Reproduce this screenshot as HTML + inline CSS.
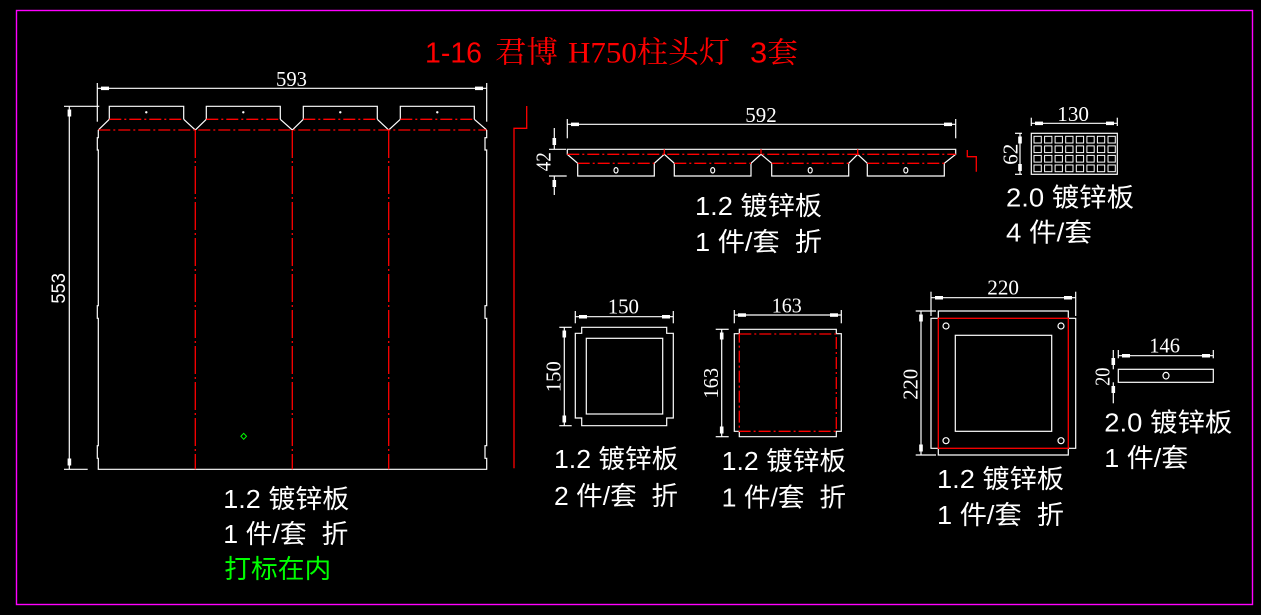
<!DOCTYPE html>
<html><head><meta charset="utf-8"><style>
html,body{margin:0;padding:0;background:#000;width:1261px;height:615px;overflow:hidden}
svg{display:block}
.w{stroke:#fff;stroke-width:1.2;fill:none}
.r{stroke:#ff0000;stroke-width:1.3;fill:none}
.rd{stroke:#ff0000;stroke-width:1.3;fill:none;stroke-dasharray:12 3 2 3}
.rv{stroke:#ff0000;stroke-width:1.3;fill:none;stroke-dasharray:28 3 2 3}
.d{font-family:"Liberation Serif",serif;font-size:21px;fill:#fff}
.l{font-family:"Liberation Sans","Noto Sans CJK SC",sans-serif;font-size:26px;fill:#fff;white-space:pre}
.m{fill:#fff}
</style></head><body>
<svg width="1261" height="615" viewBox="0 0 1261 615" xmlns="http://www.w3.org/2000/svg" xml:space="preserve">
<rect x="0" y="0" width="1261" height="615" fill="#000"/>
<rect x="16.5" y="10.5" width="1236" height="594" fill="none" stroke="#ff00ff" stroke-width="1.4"/>

<!-- Title -->
<text x="425" y="62.7" font-family="Liberation Sans,sans-serif" font-size="29" fill="#ff0000" textLength="57" lengthAdjust="spacingAndGlyphs">1-16</text>
<text x="495" y="62.7" font-family="Liberation Serif,'Noto Serif CJK SC',serif" font-size="30" fill="#ff0000" textLength="63" lengthAdjust="spacingAndGlyphs">君博</text>
<text x="568" y="62.7" font-family="Liberation Serif,'Noto Serif CJK SC',serif" font-size="30" fill="#ff0000" textLength="162" lengthAdjust="spacingAndGlyphs">H750柱头灯</text>
<text x="750" y="62.7" font-family="Liberation Sans,'Noto Serif CJK SC',sans-serif" font-size="29" fill="#ff0000" textLength="48" lengthAdjust="spacingAndGlyphs">3套</text>

<!-- ===== Left panel ===== -->
<line class="w" x1="97.3" y1="88.3" x2="486.7" y2="88.3"/>
<line class="w" x1="97.3" y1="83" x2="97.3" y2="121.7"/>
<line class="w" x1="486.7" y1="83" x2="486.7" y2="121.7"/>
<rect class="m" x="101" y="86.6" width="8" height="3.5"/>
<rect class="m" x="475" y="86.6" width="8" height="3.5"/>
<text class="d" x="276" y="86" textLength="31" lengthAdjust="spacingAndGlyphs">593</text>
<line class="w" x1="69.3" y1="106" x2="69.3" y2="469.3"/>
<line class="w" x1="64" y1="106.3" x2="99.3" y2="106.3"/>
<line class="w" x1="64" y1="469.3" x2="87.7" y2="469.3"/>
<rect class="m" x="67.6" y="109.5" width="3.6" height="7"/>
<rect class="m" x="67.6" y="458.5" width="3.6" height="7"/>
<text transform="translate(58.3,288.3) rotate(-90)" x="0" y="6.8" text-anchor="middle" font-family="Liberation Sans,sans-serif" font-size="19" fill="#fff" textLength="30.6" lengthAdjust="spacingAndGlyphs">553</text>

<path class="w" d="M109.3,119.3 V106.3 H183.7 V119.3 M206.3,119.3 V106.3 H280.3 V119.3 M303.3,119.3 V106.3 H377.3 V119.3 M400.3,119.3 V106.3 H474.3 V119.3"/>
<circle cx="146.3" cy="112.3" r="1.2" fill="#fff"/>
<circle cx="243.3" cy="112.3" r="1.2" fill="#fff"/>
<circle cx="340.3" cy="112.3" r="1.2" fill="#fff"/>
<circle cx="437.3" cy="112.3" r="1.2" fill="#fff"/>
<path class="w" d="M109.3,119.3 L98.3,130 M183.7,119.3 L195.3,130 L206.3,119.3 M280.3,119.3 L292.3,130 L303.3,119.3 M377.3,119.3 L388.7,130 L400.3,119.3 M474.3,119.3 L486.7,130"/>
<path class="rd" d="M109.3,119.3 H183.7 M206.3,119.3 H280.3 M303.3,119.3 H377.3 M400.3,119.3 H474.3"/>
<line class="rd" x1="98.3" y1="130" x2="486.7" y2="130"/>
<path class="w" d="M98.3,130 V137.7 H97.3 V150 H98.3 V305.7 H97.3 V318.3 H98.3 V445.7 H97.3 V458.3 H98.3 V469.3 H486.7 V458.3 H485 V445.7 H486.7 V318.3 H485 V305.7 H486.7 V150 H485 V137.7 H486.7 V130"/>
<line class="rv" x1="195.3" y1="130" x2="195.3" y2="469.3"/>
<line class="rv" x1="292.3" y1="130" x2="292.3" y2="469.3"/>
<line class="rv" x1="388.7" y1="130" x2="388.7" y2="469.3"/>
<path d="M243.7,433.3 L246.5,436.3 L243.7,439.3 L240.9,436.3 Z" fill="none" stroke="#00ff00" stroke-width="1"/>

<text class="l" x="223.3" y="508" textLength="126" lengthAdjust="spacingAndGlyphs">1.2 镀锌板</text>
<text class="l" x="223.3" y="543" textLength="125" lengthAdjust="spacingAndGlyphs">1 件/套  折</text>
<text class="l" x="224.3" y="578" textLength="107" lengthAdjust="spacingAndGlyphs" style="fill:#00ff00">打标在内</text>

<path class="r" d="M526.7,106 V128.3 H514 V468.3"/>

<!-- ===== Top middle ===== -->
<line class="w" x1="567.3" y1="124.3" x2="955.7" y2="124.3"/>
<line class="w" x1="567.3" y1="119" x2="567.3" y2="138.3"/>
<line class="w" x1="955.7" y1="119" x2="955.7" y2="138.3"/>
<rect class="m" x="571" y="122.6" width="8" height="3.5"/>
<rect class="m" x="944" y="122.6" width="8" height="3.5"/>
<text class="d" x="745.3" y="122" textLength="31.4" lengthAdjust="spacingAndGlyphs">592</text>

<path class="w" d="M567.3,149.3 H955.7 V154.3 L944.3,163.3 V176 H867.3 V163.3 L857.7,154.3 L848.7,163.3 V176 H771.7 V163.3 L761,154.3 L751,163.3 V176 H674.3 V163.3 L664.3,154.3 L654.3,163.3 V176 H577.7 V163.3 L567.3,154.3 Z"/>
<line class="rd" x1="567.3" y1="154.3" x2="955.7" y2="154.3"/>
<path class="rd" d="M577.7,163.3 H654.3 M674.3,163.3 H751 M771.7,163.3 H848.7 M867.3,163.3 H944.3"/>
<path class="r" d="M664.3,149.3 V154.3 M761,149.3 V154.3 M857.7,149.3 V154.3"/>
<ellipse cx="616" cy="170.3" rx="2" ry="2.7" class="w" stroke-width="1"/>
<ellipse cx="712.7" cy="170.3" rx="2" ry="2.7" class="w" stroke-width="1"/>
<ellipse cx="810.2" cy="170.3" rx="2" ry="2.7" class="w" stroke-width="1"/>
<ellipse cx="905.8" cy="170.3" rx="2" ry="2.7" class="w" stroke-width="1"/>
<line class="w" x1="549" y1="149.3" x2="566" y2="149.3"/>
<line class="w" x1="549" y1="176" x2="566.7" y2="176"/>
<line class="w" x1="554.3" y1="128" x2="554.3" y2="149.3"/>
<line class="w" x1="554.3" y1="176" x2="554.3" y2="195"/>
<rect class="m" x="552.5" y="138" width="3.6" height="7"/>
<rect class="m" x="552.5" y="180" width="3.6" height="7"/>
<text class="d" transform="translate(543,161.7) rotate(-90)" x="0" y="7.3" text-anchor="middle" textLength="19" lengthAdjust="spacingAndGlyphs">42</text>
<path class="r" d="M967.3,150 V156.7 H976.3 V171.7"/>

<text class="l" x="695" y="215" textLength="127" lengthAdjust="spacingAndGlyphs">1.2 镀锌板</text>
<text class="l" x="695" y="251" textLength="127" lengthAdjust="spacingAndGlyphs">1 件/套  折</text>

<!-- ===== Top right grid ===== -->
<rect class="w" x="1031.3" y="133.3" width="86" height="41"/>
<g fill="none" stroke="#fff" stroke-width="1">
<rect x="1034" y="136.3" width="7.3" height="6.7"/><rect x="1044.6" y="136.3" width="7.3" height="6.7"/><rect x="1055.1" y="136.3" width="7.3" height="6.7"/><rect x="1065.7" y="136.3" width="7.3" height="6.7"/><rect x="1076.3" y="136.3" width="7.3" height="6.7"/><rect x="1086.9" y="136.3" width="7.3" height="6.7"/><rect x="1097.4" y="136.3" width="7.3" height="6.7"/><rect x="1108" y="136.3" width="7.3" height="6.7"/>
<rect x="1034" y="145.9" width="7.3" height="6.7"/><rect x="1044.6" y="145.9" width="7.3" height="6.7"/><rect x="1055.1" y="145.9" width="7.3" height="6.7"/><rect x="1065.7" y="145.9" width="7.3" height="6.7"/><rect x="1076.3" y="145.9" width="7.3" height="6.7"/><rect x="1086.9" y="145.9" width="7.3" height="6.7"/><rect x="1097.4" y="145.9" width="7.3" height="6.7"/><rect x="1108" y="145.9" width="7.3" height="6.7"/>
<rect x="1034" y="155.4" width="7.3" height="6.7"/><rect x="1044.6" y="155.4" width="7.3" height="6.7"/><rect x="1055.1" y="155.4" width="7.3" height="6.7"/><rect x="1065.7" y="155.4" width="7.3" height="6.7"/><rect x="1076.3" y="155.4" width="7.3" height="6.7"/><rect x="1086.9" y="155.4" width="7.3" height="6.7"/><rect x="1097.4" y="155.4" width="7.3" height="6.7"/><rect x="1108" y="155.4" width="7.3" height="6.7"/>
<rect x="1034" y="165" width="7.3" height="6.7"/><rect x="1044.6" y="165" width="7.3" height="6.7"/><rect x="1055.1" y="165" width="7.3" height="6.7"/><rect x="1065.7" y="165" width="7.3" height="6.7"/><rect x="1076.3" y="165" width="7.3" height="6.7"/><rect x="1086.9" y="165" width="7.3" height="6.7"/><rect x="1097.4" y="165" width="7.3" height="6.7"/><rect x="1108" y="165" width="7.3" height="6.7"/>
</g>
<line class="w" x1="1031.3" y1="123.3" x2="1117.3" y2="123.3"/>
<line class="w" x1="1031.3" y1="117.7" x2="1031.3" y2="126"/>
<line class="w" x1="1117.3" y1="117.7" x2="1117.3" y2="126"/>
<rect class="m" x="1035" y="121.6" width="8" height="3.5"/>
<rect class="m" x="1106" y="121.6" width="8" height="3.5"/>
<text class="d" x="1057.3" y="121" textLength="31.7" lengthAdjust="spacingAndGlyphs">130</text>
<line class="w" x1="1020" y1="133.3" x2="1020" y2="174.3"/>
<line class="w" x1="1015" y1="133.3" x2="1022" y2="133.3"/>
<line class="w" x1="1015" y1="174.3" x2="1022" y2="174.3"/>
<rect class="m" x="1018.2" y="136.5" width="3.6" height="7"/>
<rect class="m" x="1018.2" y="164" width="3.6" height="7"/>
<text class="d" transform="translate(1010,154.3) rotate(-90)" x="0" y="7.3" text-anchor="middle" textLength="21" lengthAdjust="spacingAndGlyphs">62</text>

<text class="l" x="1006" y="206.5" textLength="128" lengthAdjust="spacingAndGlyphs">2.0 镀锌板</text>
<text class="l" x="1006" y="241.5" textLength="86" lengthAdjust="spacingAndGlyphs">4 件/套</text>

<!-- ===== Square 150 ===== -->
<path class="w" d="M581.7,327.3 H666.7 V333.3 H673.3 V418 H666.7 V425.7 H581.7 V418 H575.3 V333.3 H581.7 Z"/>
<rect class="w" x="586.3" y="338.3" width="76.4" height="75.7"/>
<line class="w" x1="575.3" y1="316.7" x2="673.3" y2="316.7"/>
<line class="w" x1="575.3" y1="311" x2="575.3" y2="323.3"/>
<line class="w" x1="673.3" y1="311" x2="673.3" y2="323.3"/>
<rect class="m" x="579" y="315" width="8" height="3.5"/>
<rect class="m" x="662" y="315" width="8" height="3.5"/>
<text class="d" x="607.7" y="313.3" textLength="31.3" lengthAdjust="spacingAndGlyphs">150</text>
<line class="w" x1="564.3" y1="327.3" x2="564.3" y2="425.7"/>
<line class="w" x1="559.3" y1="327.3" x2="571.7" y2="327.3"/>
<line class="w" x1="559.3" y1="425.7" x2="571.7" y2="425.7"/>
<rect class="m" x="562.5" y="330.5" width="3.6" height="7"/>
<rect class="m" x="562.5" y="415.5" width="3.6" height="7"/>
<text class="d" transform="translate(553.3,376.7) rotate(-90)" x="0" y="7.3" text-anchor="middle" textLength="31" lengthAdjust="spacingAndGlyphs">150</text>
<text class="l" x="554" y="468" textLength="124.3" lengthAdjust="spacingAndGlyphs">1.2 镀锌板</text>
<text class="l" x="554" y="505" textLength="124" lengthAdjust="spacingAndGlyphs">2 件/套  折</text>

<!-- ===== Square 163 ===== -->
<path class="w" d="M739.3,329.3 H836.3 V333.7 H841.3 V431.3 H836.3 V436.7 H739.3 V431.3 H734.3 V333.7 H739.3 Z"/>
<rect x="739.3" y="334" width="97" height="97.3" fill="none" stroke="#ff0000" stroke-width="1.3" stroke-dasharray="12 3 2 3"/>
<line class="w" x1="734.3" y1="315" x2="841.3" y2="315"/>
<line class="w" x1="734.3" y1="310" x2="734.3" y2="323.3"/>
<line class="w" x1="841.3" y1="310" x2="841.3" y2="323.3"/>
<rect class="m" x="738" y="313.3" width="8" height="3.5"/>
<rect class="m" x="830" y="313.3" width="8" height="3.5"/>
<text class="d" x="771.7" y="312.7" textLength="30" lengthAdjust="spacingAndGlyphs">163</text>
<line class="w" x1="721.7" y1="329.3" x2="721.7" y2="436.7"/>
<line class="w" x1="715.7" y1="329.3" x2="728.7" y2="329.3"/>
<line class="w" x1="715.7" y1="436.7" x2="728.7" y2="436.7"/>
<rect class="m" x="719.9" y="332.5" width="3.6" height="7"/>
<rect class="m" x="719.9" y="426.5" width="3.6" height="7"/>
<text class="d" transform="translate(710.7,383.3) rotate(-90)" x="0" y="7.3" text-anchor="middle" textLength="30.7" lengthAdjust="spacingAndGlyphs">163</text>
<text class="l" x="721.7" y="470" textLength="124.3" lengthAdjust="spacingAndGlyphs">1.2 镀锌板</text>
<text class="l" x="721.7" y="506.5" textLength="124.3" lengthAdjust="spacingAndGlyphs">1 件/套  折</text>

<!-- ===== Square 220 ===== -->
<path class="w" d="M938.3,311 H1068.3 V318.3 H1075.7 V448.3 H1068.3 V455 H938.3 V448.3 H931 V318.3 H938.3 Z"/>
<rect class="r" x="938.3" y="318.3" width="130" height="130"/>
<rect class="w" x="955.3" y="335.3" width="96.4" height="96"/>
<circle cx="946" cy="326" r="3" class="w" stroke-width="1"/>
<circle cx="1061" cy="326" r="3" class="w" stroke-width="1"/>
<circle cx="946" cy="440.7" r="3" class="w" stroke-width="1"/>
<circle cx="1061" cy="440.7" r="3" class="w" stroke-width="1"/>
<line class="w" x1="931" y1="297.7" x2="1075.7" y2="297.7"/>
<line class="w" x1="931" y1="291.7" x2="931" y2="316"/>
<line class="w" x1="1075.7" y1="291.7" x2="1075.7" y2="316"/>
<rect class="m" x="935" y="296" width="8" height="3.5"/>
<rect class="m" x="1064" y="296" width="8" height="3.5"/>
<text class="d" x="987.3" y="294.3" textLength="31.7" lengthAdjust="spacingAndGlyphs">220</text>
<line class="w" x1="921" y1="311" x2="921" y2="455"/>
<line class="w" x1="915.7" y1="311" x2="936" y2="311"/>
<line class="w" x1="915.7" y1="455" x2="936" y2="455"/>
<rect class="m" x="919.2" y="314.5" width="3.6" height="7"/>
<rect class="m" x="919.2" y="444.5" width="3.6" height="7"/>
<text class="d" transform="translate(910,384.3) rotate(-90)" x="0" y="7.3" text-anchor="middle" textLength="31" lengthAdjust="spacingAndGlyphs">220</text>
<text class="l" x="937" y="488" textLength="127" lengthAdjust="spacingAndGlyphs">1.2 镀锌板</text>
<text class="l" x="937" y="524" textLength="127" lengthAdjust="spacingAndGlyphs">1 件/套  折</text>

<!-- ===== Bar 146 ===== -->
<rect class="w" x="1118.3" y="369.3" width="95" height="13"/>
<ellipse cx="1166" cy="375.7" rx="3" ry="3.3" class="w" stroke-width="1"/>
<line class="w" x1="1118.3" y1="355.7" x2="1213.3" y2="355.7"/>
<line class="w" x1="1118.3" y1="350" x2="1118.3" y2="358.3"/>
<line class="w" x1="1213.3" y1="350" x2="1213.3" y2="358.3"/>
<rect class="m" x="1122" y="354" width="8" height="3.5"/>
<rect class="m" x="1202" y="354" width="8" height="3.5"/>
<text class="d" x="1149.3" y="352.3" textLength="30.7" lengthAdjust="spacingAndGlyphs">146</text>
<line class="w" x1="1113.3" y1="350" x2="1113.3" y2="369.3"/>
<line class="w" x1="1113.3" y1="382.3" x2="1113.3" y2="403.3"/>
<rect class="m" x="1111.5" y="358" width="3.6" height="7"/>
<rect class="m" x="1111.5" y="386" width="3.6" height="7"/>
<text class="d" transform="translate(1102.3,376.7) rotate(-90)" x="0" y="7.3" text-anchor="middle" textLength="18.3" lengthAdjust="spacingAndGlyphs">20</text>
<text class="l" x="1104.3" y="431.5" textLength="128" lengthAdjust="spacingAndGlyphs">2.0 镀锌板</text>
<text class="l" x="1104.3" y="467" textLength="84" lengthAdjust="spacingAndGlyphs">1 件/套</text>
</svg>
</body></html>
